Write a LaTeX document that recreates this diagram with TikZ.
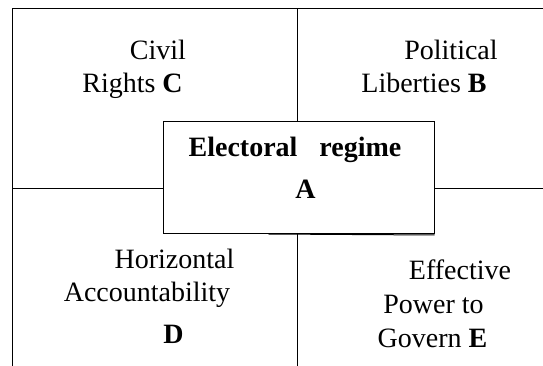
\documentclass[tikz,border=0pt]{standalone}
\usepackage{fontspec}
\setmainfont{Liberation Serif}
\begin{document}
\begin{tikzpicture}[x=1pt,y=1pt,
  lbl/.style={font=\fontsize{28}{33}\selectfont, inner sep=0pt, anchor=base},
  rule/.style={line width=1pt, black}]
\useasboundingbox (0,0) rectangle (543,366);
\clip (0,0) rectangle (543,366);
% frame and dividers
\coordinate (tl) at (12.8,357.7);
\coordinate (tr) at (546,357.7);
\coordinate (bl) at (12.8,-2);
\coordinate (ml) at (12.8,177.7);
\coordinate (mr) at (546,177.7);
\coordinate (mt) at (297.6,357.7);
\coordinate (mb) at (297.6,-2);
\draw[rule] (tr) -- (tl) -- (bl);
\draw[rule] (ml) -- (mr);
\draw[rule] (mt) -- (mb);
% central box
\node[rule, draw, fill=white, minimum width=271pt, minimum height=112.3pt,
      inner sep=0pt, anchor=north west] (box) at (162.6,245) {};
\coordinate (s1) at (268.3,132.0);
\coordinate (s2) at ([yshift=-0.7pt]box.south east);
\draw[rule] (s1) -- (s2);
% texts
\node[lbl] (civil) at (158,306.7) {Civil};
\node[lbl] (rights) at (132.5,273.3) {Rights \textbf{C}};
\node[lbl] (pol) at (451,306.3) {Political};
\node[lbl] (lib) at (424,273.3) {Liberties \textbf{B}};
\node[lbl] (elect) at (295,209.3) {\textbf{Electoral}\hspace{22pt}\textbf{regime}};
\node[lbl] (a) at (305.5,167.7) {\textbf{A}};
\node[lbl] (hor) at (174.5,97.7) {Horizontal};
\node[lbl] (acc) at (147,64.3) {Accountability};
\node[lbl] (d) at (173.5,22.7) {\textbf{D}};
\node[lbl] (eff) at (460,86) {Effective};
\node[lbl] (pow) at (433.5,52.7) {Power to};
\node[lbl] (gov) at (432.5,18.7) {Govern \textbf{E}};
\end{tikzpicture}
\end{document}
